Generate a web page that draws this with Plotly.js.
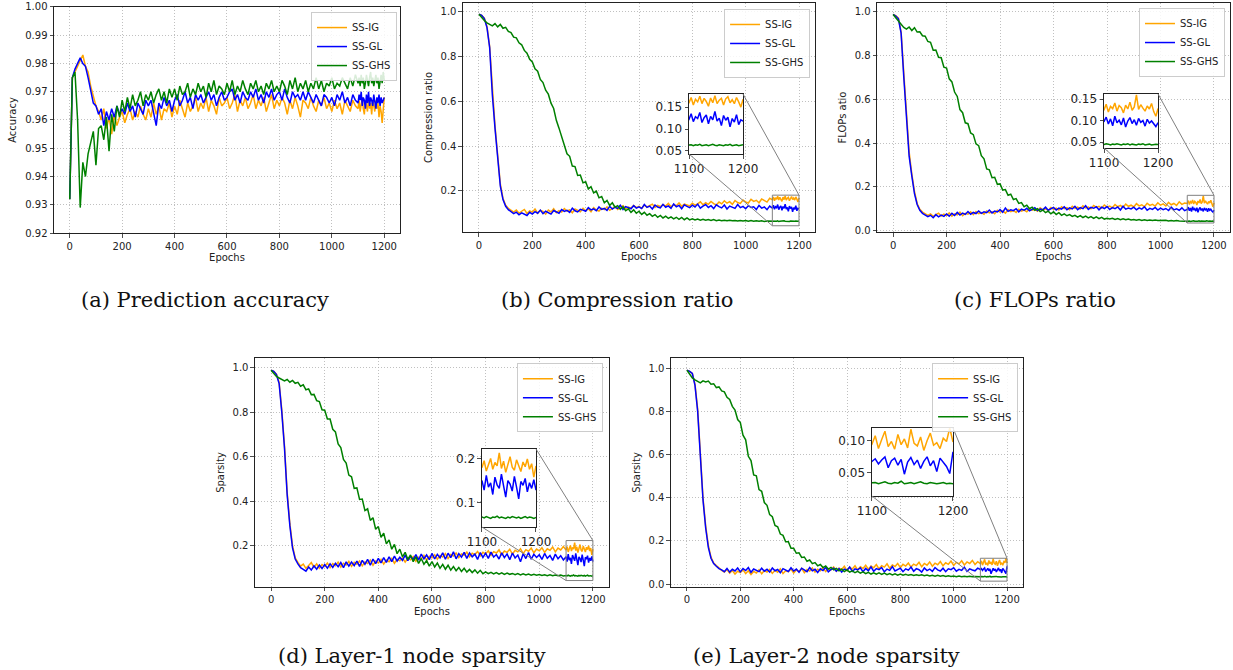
<!DOCTYPE html>
<html>
<head>
<meta charset="utf-8">
<script src="https://cdn.plot.ly/plotly-3.0.1.min.js"></script>
<style>html,body{margin:0;padding:0;background:#fff;}#chart{width:1233px;height:670px;}</style>
</head>
<body>
<div id="chart"></div>
<script>
// Epoch index: every 10 epochs up to 1090, then every 4 epochs in the zoomed tail 1100..1200
const EPOCHS = [];
for (let e = 0; e < 1100; e += 10) EPOCHS.push(e);
for (let e = 1100; e <= 1200; e += 4) EPOCHS.push(e);

const SERIES_NAMES = ['SS-IG', 'SS-GL', 'SS-GHS'];

// (a) Prediction accuracy
const A_IG = [
.932,.975,.977,.979,.981,.983,.979,.977,.972,.968,
.965,.963,.960,.964,.957,.961,.955,.962,.958,.961,
.963,.959,.962,.964,.960,.963,.961,.965,.962,.960,
.964,.961,.966,.962,.965,.960,.964,.963,.966,.961,
.965,.962,.967,.964,.961,.966,.963,.965,.968,.963,
.966,.964,.968,.963,.967,.965,.962,.968,.965,.966,
.968,.964,.966,.969,.963,.967,.965,.968,.964,.966,
.969,.964,.967,.965,.968,.963,.966,.969,.964,.967,
.965,.968,.966,.962,.967,.964,.968,.965,.961,.967,
.966,.964,.968,.965,.963,.967,.965,.968,.964,.966,
.963,.967,.964,.966,.962,.967,.965,.963,.967,.965,
.964,.967,.963,.966,.968,.964,.962,.967,.965,.963,.968,.964,.966,.962,.967,.965,.963,.967,.964,.966,.961,.965,.963,.959,.966,.968];
const A_GL = [
.932,.975,.978,.980,.982,.980,.979,.975,.970,.966,
.965,.962,.964,.958,.963,.960,.964,.961,.965,.962,
.964,.962,.966,.963,.965,.961,.966,.964,.962,.967,
.965,.967,.963,.958,.966,.964,.968,.965,.967,.963,
.967,.969,.965,.967,.970,.966,.968,.964,.969,.967,
.969,.966,.968,.970,.967,.969,.965,.968,.970,.967,
.968,.970,.971,.967,.969,.966,.970,.968,.967,.970,
.968,.971,.967,.969,.966,.970,.968,.971,.967,.969,
.970,.967,.971,.968,.966,.970,.968,.969,.967,.970,
.967,.970,.968,.966,.969,.967,.965,.969,.968,.966,
.968,.965,.969,.967,.970,.966,.968,.965,.969,.967,
.966,.969,.967,.970,.965,.968,.967,.964,.969,.966,.970,.965,.968,.967,.965,.969,.966,.964,.968,.966,.969,.965,.968,.966,.967,.968];
const A_GHS = [
.932,.975,.977,.960,.929,.945,.940,.948,.952,.956,
.944,.957,.958,.953,.961,.949,.962,.956,.965,.961,
.967,.963,.968,.964,.969,.965,.967,.970,.965,.969,
.967,.970,.966,.969,.971,.967,.970,.966,.971,.968,
.971,.967,.972,.969,.970,.973,.968,.971,.969,.973,
.970,.972,.968,.973,.970,.974,.969,.972,.971,.969,
.973,.970,.974,.969,.972,.970,.974,.971,.969,.973,
.971,.974,.970,.972,.969,.973,.971,.974,.970,.972,
.970,.974,.972,.969,.974,.971,.975,.970,.973,.971,
.974,.970,.973,.971,.975,.971,.974,.970,.973,.972,
.975,.971,.973,.972,.975,.973,.971,.975,.972,.976,
.973,.975,.972,.976,.973,.975,.971,.973,.976,.974,.972,.975,.977,.973,.975,.972,.974,.976,.973,.975,.971,.974,.976,.973,.977,.974];

// (b) Compression ratio
const B_IG = [
.990,.985,.972,.935,.845,.640,.490,.360,.230,.165,
.135,.121,.112,.104,.113,.099,.108,.116,.098,.110,
.104,.118,.099,.112,.107,.095,.113,.105,.119,.102,
.111,.104,.120,.109,.114,.101,.118,.112,.106,.121,
.110,.119,.106,.124,.113,.109,.122,.115,.127,.112,
.121,.129,.116,.125,.133,.119,.127,.122,.134,.124,
.130,.121,.136,.127,.132,.140,.125,.134,.129,.138,
.131,.143,.128,.137,.133,.145,.130,.140,.136,.132,
.144,.135,.141,.150,.137,.146,.139,.152,.142,.136,
.149,.141,.155,.144,.151,.139,.156,.147,.143,.158,
.150,.145,.161,.152,.157,.146,.163,.154,.149,.166,
.160,.172,.155,.168,.162,.175,.158,.170,.163,.152,.171,.160,.176,.158,.166,.170,.155,.169,.174,.160,.167,.158,.172,.162,.150,.168];
const B_GL = [
.990,.985,.970,.930,.840,.630,.480,.350,.220,.160,
.130,.115,.106,.097,.104,.092,.101,.096,.089,.103,
.095,.106,.099,.113,.097,.108,.101,.095,.111,.104,
.099,.116,.107,.112,.103,.122,.110,.105,.117,.113,
.108,.124,.114,.119,.110,.127,.116,.121,.112,.130,
.118,.126,.121,.135,.116,.129,.124,.119,.133,.122,
.128,.120,.138,.125,.131,.118,.136,.127,.123,.139,
.126,.132,.121,.141,.128,.134,.119,.137,.130,.124,
.135,.127,.140,.122,.131,.138,.125,.133,.120,.137,
.129,.123,.136,.118,.131,.126,.121,.138,.124,.130,
.119,.133,.125,.128,.116,.134,.122,.127,.115,.131,
.122,.135,.117,.128,.124,.138,.115,.126,.132,.112,.129,.121,.140,.118,.125,.108,.131,.120,.127,.105,.124,.116,.133,.110,.121,.118];
const B_GHS = [
.990,.975,.962,.951,.946,.938,.948,.933,.944,.927,
.931,.913,.908,.887,.884,.862,.853,.828,.815,.788,
.776,.746,.735,.698,.684,.650,.632,.592,.568,.515,
.480,.438,.405,.365,.354,.310,.308,.268,.270,.235,
.240,.208,.218,.190,.198,.168,.174,.146,.156,.134,
.146,.126,.133,.116,.128,.110,.119,.103,.114,.099,
.108,.094,.103,.090,.097,.085,.093,.081,.089,.078,
.086,.076,.083,.074,.081,.072,.080,.070,.078,.069,
.074,.069,.073,.068,.072,.068,.071,.067,.071,.066,
.069,.066,.068,.065,.068,.065,.067,.064,.067,.064,
.066,.063,.066,.063,.065,.063,.065,.062,.064,.063,
.063,.064,.062,.064,.063,.065,.062,.063,.064,.062,.063,.065,.063,.062,.064,.063,.062,.064,.063,.065,.062,.063,.064,.062,.063,.064];

// (c) FLOPs ratio
const C_IG = [
.985,.980,.968,.905,.720,.520,.360,.260,.180,.125,
.098,.086,.079,.071,.077,.066,.074,.081,.068,.076,
.070,.082,.067,.078,.073,.085,.069,.080,.076,.087,
.074,.088,.079,.083,.076,.091,.082,.087,.078,.094,
.085,.091,.081,.097,.088,.093,.084,.099,.090,.095,
.087,.102,.094,.098,.090,.105,.096,.101,.093,.107,
.098,.104,.095,.110,.101,.106,.097,.112,.103,.108,
.100,.114,.105,.109,.101,.116,.107,.112,.104,.118,
.108,.113,.105,.120,.110,.116,.107,.122,.112,.117,
.109,.124,.114,.119,.110,.126,.116,.121,.113,.128,
.117,.123,.114,.130,.119,.125,.116,.132,.121,.127,
.125,.138,.120,.133,.128,.141,.122,.135,.130,.118,.136,.127,.143,.124,.132,.160,.126,.137,.129,.122,.134,.127,.140,.121,.110,.128];
const C_GL = [
.985,.978,.965,.900,.700,.500,.340,.250,.170,.120,
.094,.080,.073,.065,.071,.060,.074,.064,.072,.066,
.077,.067,.080,.070,.084,.072,.081,.075,.088,.076,
.084,.079,.091,.080,.087,.083,.095,.082,.090,.086,
.097,.085,.104,.089,.096,.092,.101,.087,.099,.094,
.103,.091,.098,.106,.093,.100,.096,.108,.094,.101,
.107,.095,.104,.099,.110,.096,.105,.100,.112,.097,
.106,.101,.115,.098,.107,.103,.110,.096,.108,.102,
.111,.097,.106,.101,.109,.095,.112,.099,.104,.100,
.108,.096,.105,.099,.110,.094,.103,.098,.107,.095,
.104,.097,.102,.093,.108,.096,.101,.094,.105,.092,
.098,.108,.092,.104,.088,.110,.095,.101,.090,.106,.085,.099,.107,.093,.102,.089,.105,.096,.100,.087,.103,.094,.099,.091,.086,.095];
const C_GHS = [
.985,.970,.952,.936,.926,.918,.928,.912,.925,.905,
.906,.888,.886,.862,.858,.822,.823,.790,.788,.745,
.741,.692,.678,.632,.612,.552,.538,.492,.488,.446,
.438,.396,.388,.342,.328,.282,.278,.242,.244,.212,
.214,.186,.188,.162,.167,.143,.147,.125,.129,.110,
.117,.101,.108,.094,.101,.088,.095,.083,.090,.078,
.087,.075,.083,.071,.078,.069,.074,.066,.071,.063,
.070,.061,.067,.059,.065,.057,.064,.056,.062,.054,
.058,.054,.057,.052,.056,.051,.055,.051,.054,.050,
.052,.049,.052,.048,.051,.048,.050,.047,.050,.047,
.048,.046,.048,.045,.047,.045,.047,.045,.046,.044,
.044,.046,.045,.043,.045,.044,.046,.044,.043,.045,.044,.046,.043,.045,.044,.043,.045,.044,.046,.043,.044,.045,.043,.044,.045,.044];

// (d) Layer-1 node sparsity
const D_IG = [
.990,.985,.972,.935,.810,.650,.440,.300,.200,.145,
.125,.108,.117,.098,.111,.124,.102,.118,.099,.115,
.106,.122,.101,.119,.110,.126,.104,.121,.113,.129,
.107,.125,.116,.131,.109,.127,.120,.135,.112,.131,
.122,.138,.117,.135,.128,.143,.121,.139,.132,.146,
.126,.144,.137,.151,.130,.148,.141,.156,.135,.152,
.145,.159,.139,.156,.149,.164,.142,.160,.153,.167,
.146,.163,.157,.171,.150,.166,.160,.174,.154,.170,
.163,.177,.156,.173,.167,.181,.159,.176,.170,.184,
.162,.179,.172,.186,.164,.182,.175,.189,.168,.185,
.177,.191,.170,.186,.179,.194,.172,.189,.181,.196,
.180,.196,.172,.188,.201,.176,.192,.184,.214,.178,.195,.169,.190,.205,.181,.174,.198,.186,.171,.193,.182,.200,.176,.189,.158,.184];
const D_GL = [
.990,.985,.970,.930,.800,.640,.430,.290,.190,.140,
.118,.101,.093,.085,.104,.090,.109,.094,.113,.097,
.115,.099,.118,.102,.121,.105,.124,.101,.127,.108,
.126,.110,.131,.107,.134,.116,.138,.112,.140,.119,
.143,.122,.146,.125,.150,.128,.153,.131,.148,.134,
.157,.133,.152,.138,.160,.135,.162,.141,.158,.137,
.165,.140,.161,.145,.168,.139,.166,.146,.172,.141,
.164,.148,.170,.143,.167,.150,.162,.138,.169,.147,
.166,.143,.171,.149,.160,.140,.168,.146,.163,.137,
.167,.145,.158,.128,.164,.142,.169,.139,.161,.147,
.159,.138,.165,.143,.156,.134,.162,.141,.155,.136,
.150,.128,.162,.135,.145,.118,.158,.140,.132,.165,.138,.112,.150,.142,.126,.160,.135,.108,.148,.139,.155,.124,.145,.132,.152,.128];
const D_GHS = [
.990,.975,.962,.955,.950,.942,.948,.936,.944,.931,
.935,.918,.924,.902,.906,.880,.881,.853,.849,.812,
.810,.770,.770,.724,.712,.658,.642,.588,.572,.518,
.510,.458,.460,.408,.410,.358,.366,.314,.326,.274,
.286,.238,.256,.208,.226,.184,.206,.164,.184,.150,
.170,.138,.158,.128,.150,.120,.142,.116,.133,.108,
.128,.104,.122,.098,.116,.094,.112,.090,.106,.087,
.102,.084,.098,.081,.093,.079,.091,.076,.089,.074,
.082,.074,.080,.073,.079,.072,.078,.071,.077,.071,
.075,.069,.074,.068,.073,.068,.072,.067,.071,.067,
.070,.066,.069,.065,.069,.065,.068,.065,.068,.064,
.066,.064,.067,.065,.063,.066,.065,.068,.064,.066,.065,.063,.066,.064,.067,.065,.064,.066,.063,.065,.067,.064,.066,.065,.063,.065];

// (e) Layer-2 node sparsity
const E_IG = [
.990,.985,.975,.925,.810,.590,.400,.270,.180,.125,
.098,.086,.074,.064,.056,.068,.051,.063,.047,.060,
.054,.066,.049,.062,.045,.059,.052,.067,.048,.063,
.056,.068,.050,.064,.055,.071,.049,.062,.058,.070,
.052,.066,.059,.073,.053,.068,.061,.075,.056,.069,
.062,.077,.058,.071,.066,.080,.060,.074,.068,.083,
.063,.078,.070,.085,.066,.081,.073,.088,.069,.084,
.076,.091,.071,.086,.079,.094,.074,.089,.082,.096,
.076,.092,.084,.098,.079,.093,.086,.101,.081,.096,
.088,.103,.083,.097,.090,.105,.085,.099,.092,.107,
.087,.101,.094,.108,.089,.103,.096,.110,.091,.104,
.095,.108,.088,.102,.115,.091,.099,.087,.110,.094,.103,.089,.118,.096,.092,.106,.085,.100,.112,.093,.097,.088,.104,.099,.120,.098];
const E_GL = [
.990,.985,.975,.920,.800,.580,.390,.260,.170,.120,
.095,.083,.072,.066,.058,.073,.056,.069,.061,.075,
.057,.072,.063,.077,.055,.070,.064,.058,.074,.060,
.069,.056,.075,.062,.068,.053,.072,.065,.059,.076,
.061,.070,.055,.074,.066,.058,.077,.062,.069,.054,
.071,.063,.078,.057,.068,.074,.060,.072,.056,.070,
.064,.079,.059,.071,.066,.076,.058,.073,.062,.080,
.060,.072,.067,.077,.057,.070,.064,.081,.061,.069,
.074,.058,.071,.065,.079,.060,.072,.067,.056,.075,
.063,.070,.059,.077,.066,.061,.074,.058,.071,.067,
.076,.060,.069,.064,.078,.059,.071,.066,.062,.074,
.068,.072,.064,.070,.075,.058,.069,.073,.062,.071,.048,.067,.074,.063,.070,.057,.068,.075,.061,.069,.052,.073,.066,.060,.049,.083];
const E_GHS = [
.990,.975,.955,.946,.940,.932,.941,.936,.940,.926,
.928,.910,.913,.895,.890,.865,.855,.823,.806,.762,
.748,.690,.668,.592,.572,.506,.502,.438,.430,.378,
.365,.322,.312,.272,.266,.232,.226,.196,.196,.166,
.166,.143,.145,.124,.126,.106,.112,.095,.100,.085,
.091,.077,.084,.070,.078,.066,.073,.062,.069,.058,
.066,.056,.062,.053,.059,.051,.057,.049,.055,.047,
.053,.046,.052,.045,.051,.044,.049,.043,.048,.042,
.047,.042,.046,.041,.045,.040,.044,.040,.043,.039,
.042,.038,.041,.037,.041,.037,.040,.036,.039,.036,
.038,.035,.038,.035,.037,.034,.037,.034,.036,.034,
.034,.035,.033,.034,.036,.034,.033,.035,.034,.037,.033,.034,.035,.033,.034,.036,.034,.033,.035,.034,.033,.034,.035,.033,.034,.033];

const X_TICKS = [0, 200, 400, 600, 800, 1000, 1200];
const COLORS = ['#FFA500', '#0000FF', '#008000'];

const panels = [
  {id:'', series:[A_IG, A_GL, A_GHS], ytitle:'Accuracy', yrange:[0.92, 1.0], ytick:[0.92,0.93,0.94,0.95,0.96,0.97,0.98,0.99,1.00], yfmt:'.2f',
   xdom:[0.0438,0.3244], ydom:[0.6522,0.9896], legend:{x:0.322, y:0.982}, caption:'(a) Prediction accuracy', cap:[0.1663,0.552]},
  {id:'2', series:[B_IG, B_GL, B_GHS], ytitle:'Compression ratio', yrange:[0.015, 1.04], ytick:[0.2,0.4,0.6,0.8,1.0], yfmt:'.1f',
   xdom:[0.3755,0.6610], ydom:[0.6537,0.9955], legend:{x:0.657, y:0.9866}, caption:'(b) Compression ratio', cap:[0.5012,0.552],
   inset:{id:'6', xdom:[0.5588,0.6026], ydom:[0.7701,0.8597], yrange:[0.043,0.18], ytick:[0.05,0.10,0.15], yfmt:'.2f'}},
  {id:'3', series:[C_IG, C_GL, C_GHS], ytitle:'FLOPs atio', yrange:[-0.005, 1.037], ytick:[0,0.2,0.4,0.6,0.8,1.0], yfmt:'.1f',
   xdom:[0.7113,0.9976], ydom:[0.6537,0.9955], legend:{x:0.9935, y:0.988}, caption:'(c) FLOPs ratio', cap:[0.8394,0.552],
   inset:{id:'7', xdom:[0.8954,0.9392], ydom:[0.7791,0.8597], yrange:[0.036,0.162], ytick:[0.05,0.10,0.15], yfmt:'.2f'}},
  {id:'4', series:[D_IG, D_GL, D_GHS], ytitle:'Sparsity', yrange:[0.014, 1.045], ytick:[0.2,0.4,0.6,0.8,1.0], yfmt:'.1f',
   xdom:[0.2068,0.4939], ydom:[0.1239,0.4657], legend:{x:0.489, y:0.458}, caption:'(d) Layer-1 node sparsity', cap:[0.3341,0.0209],
   inset:{id:'8', xdom:[0.3909,0.4347], ydom:[0.2134,0.3299], yrange:[0.043,0.223], ytick:[0.1,0.2], yfmt:'.1f'}},
  {id:'5', series:[E_IG, E_GL, E_GHS], ytitle:'Sparsity', yrange:[-0.013, 1.047], ytick:[0,0.2,0.4,0.6,0.8,1.0], yfmt:'.1f',
   xdom:[0.5442,0.8297], ydom:[0.1239,0.4657], legend:{x:0.8257, y:0.458}, caption:'(e) Layer-2 node sparsity', cap:[0.6707,0.0209],
   inset:{id:'9', xdom:[0.7072,0.7729], ydom:[0.2597,0.3612], yrange:[0.014,0.12], ytick:[0.05,0.10], yfmt:'.2f'}}
];

const FONT = 'DejaVu Sans, sans-serif';
const traces = [];
const layout = {
  width: 1233, height: 670,
  margin: {l:0, r:0, t:0, b:0},
  paper_bgcolor: '#ffffff', plot_bgcolor: '#ffffff',
  showlegend: true,
  font: {family: FONT, color: '#222'},
  shapes: [], annotations: []
};

function axisCommon() {
  return {ticks:'outside', ticklen:3.5, tickwidth:0.8, tickcolor:'#222', showline:true, mirror:true,
          linecolor:'#222', linewidth:1, zeroline:false, tickfont:{family:FONT, size:10, color:'#222'}};
}

function toPaper(ax, v) {
  const d = ax.domain, r = ax.range;
  return d[0] + (v - r[0]) / (r[1] - r[0]) * (d[1] - d[0]);
}

panels.forEach((p, pi) => {
  const xa = 'xaxis' + p.id, ya = 'yaxis' + p.id;
  const xr = 'x' + p.id, yr = 'y' + p.id;
  const legName = pi === 0 ? 'legend' : 'legend' + (pi + 1);
  layout[xa] = Object.assign(axisCommon(), {
    domain: p.xdom, anchor: yr, range:[-60, 1260], tickvals: X_TICKS,
    showgrid:true, gridcolor:'#b0b0b0', griddash:'1px,2px', gridwidth:0.8,
    title:{text:'Epochs', font:{family:FONT, size:10, color:'#222'}, standoff:3}
  });
  layout[ya] = Object.assign(axisCommon(), {
    domain: p.ydom, anchor: xr, range: p.yrange, tickvals: p.ytick, tickformat: p.yfmt,
    showgrid:true, gridcolor:'#b0b0b0', griddash:'1px,2px', gridwidth:0.8,
    title:{text:p.ytitle, font:{family:FONT, size:10, color:'#222'}, standoff:6}
  });
  layout[legName] = {
    x: p.legend.x, y: p.legend.y, xanchor:'right', yanchor:'top',
    bgcolor:'rgba(255,255,255,0.85)', bordercolor:'#cccccc', borderwidth:1,
    font:{family:FONT, size:10, color:'#222'}, itemwidth:30, tracegroupgap:0
  };
  p.series.forEach((s, si) => {
    traces.push({type:'scatter', mode:'lines', x: EPOCHS, y: s, name: SERIES_NAMES[si],
      xaxis: xr, yaxis: yr, legend: legName, line:{color: COLORS[si], width:1.5}});
  });
  layout.annotations.push({xref:'paper', yref:'paper', x:p.cap[0], y:p.cap[1], xanchor:'center', yanchor:'middle',
    text:p.caption, showarrow:false, font:{family:'DejaVu Serif, serif', size:21, color:'#111'}});

  if (p.inset) {
    const q = p.inset;
    const ixa = 'xaxis' + q.id, iya = 'yaxis' + q.id;
    layout[ixa] = Object.assign(axisCommon(), {
      domain:q.xdom, anchor:'y' + q.id, range:[1100, 1200], tickvals:[1100, 1200], showgrid:false,
      tickfont:{family:FONT, size:12, color:'#222'}
    });
    layout[iya] = Object.assign(axisCommon(), {
      domain:q.ydom, anchor:'x' + q.id, range:q.yrange, tickvals:q.ytick, tickformat:q.yfmt, showgrid:false,
      tickfont:{family:FONT, size:12, color:'#222'}
    });
    p.series.forEach((s, si) => {
      traces.push({type:'scatter', mode:'lines', x: EPOCHS, y: s, name: SERIES_NAMES[si], showlegend:false,
        xaxis:'x' + q.id, yaxis:'y' + q.id, line:{color: COLORS[si], width:1.5}});
    });
    layout.shapes.push({type:'rect', xref:xr, yref:yr, x0:1100, x1:1200, y0:q.yrange[0], y1:q.yrange[1],
      line:{color:'#808080', width:1}});
    const rx0 = toPaper(layout[xa], 1100), rx1 = toPaper(layout[xa], 1200);
    const ry0 = toPaper(layout[ya], q.yrange[0]), ry1 = toPaper(layout[ya], q.yrange[1]);
    layout.shapes.push({type:'line', xref:'paper', yref:'paper', x0:q.xdom[0], y0:q.ydom[0], x1:rx0, y1:ry0,
      line:{color:'#808080', width:1}});
    layout.shapes.push({type:'line', xref:'paper', yref:'paper', x0:q.xdom[1], y0:q.ydom[1], x1:rx1, y1:ry1,
      line:{color:'#808080', width:1}});
  }
});

Plotly.newPlot('chart', traces, layout, {displayModeBar:false, staticPlot:true});
</script>
</body>
</html>
